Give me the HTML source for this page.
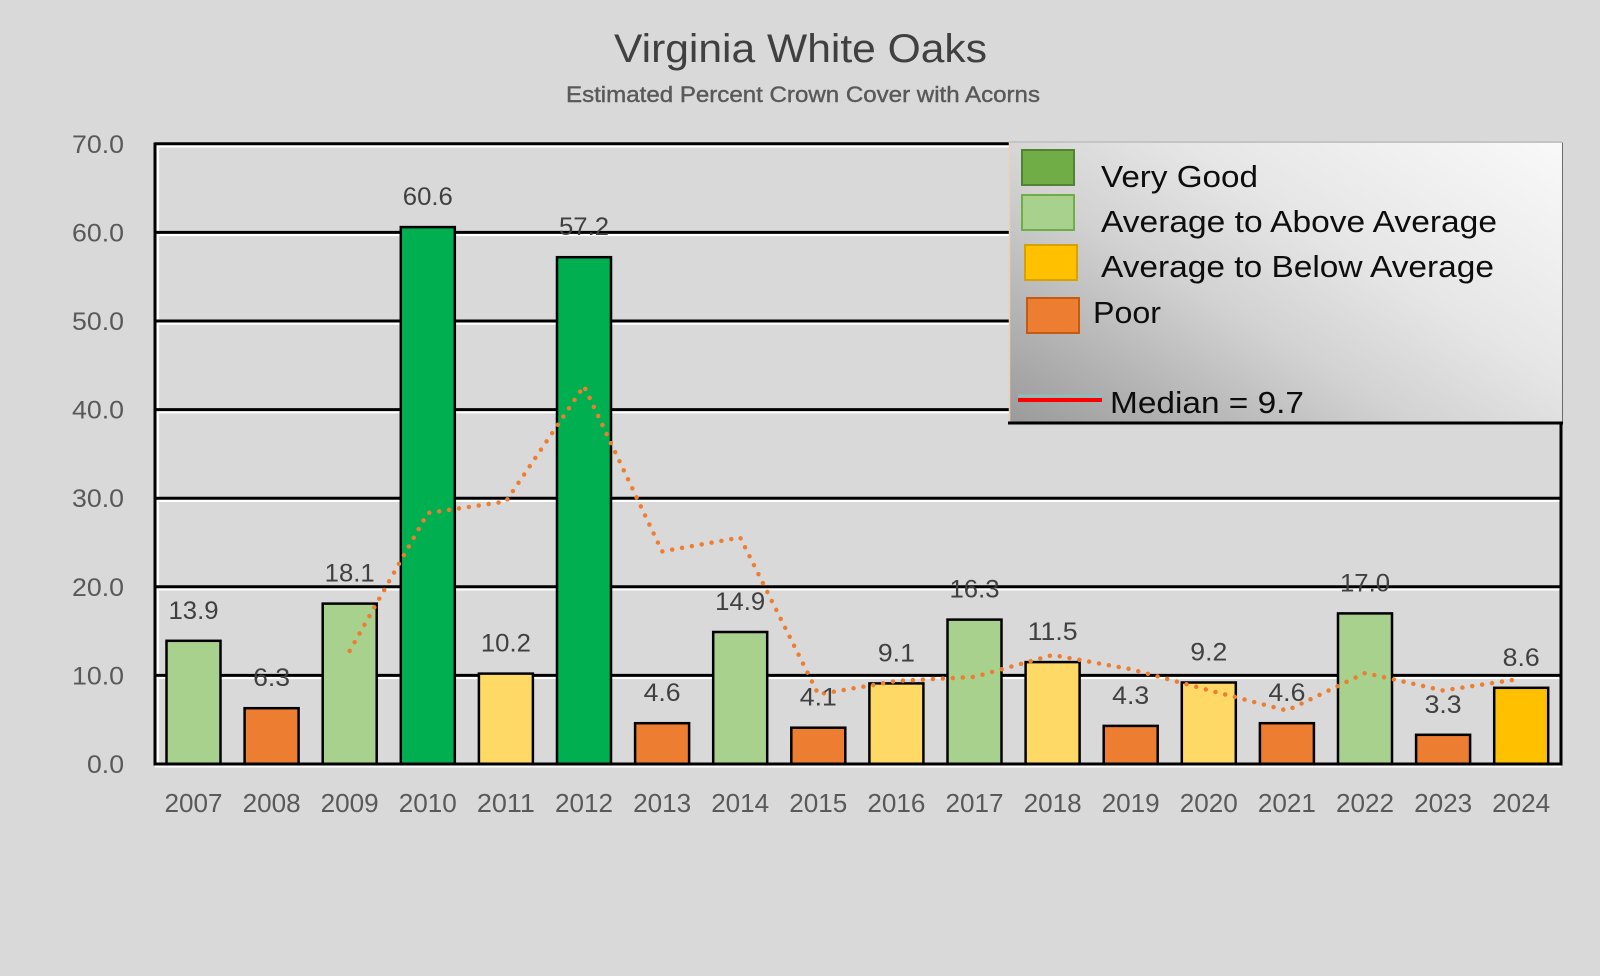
<!DOCTYPE html>
<html>
<head>
<meta charset="utf-8">
<style>
  html,body{margin:0;padding:0;background:#d9d9d9;}
  svg{display:block;}
  text{font-family:"Liberation Sans", sans-serif;}
</style>
</head>
<body>
<svg width="1600" height="976" viewBox="0 0 1600 976" xmlns="http://www.w3.org/2000/svg">
  <defs>
    <linearGradient id="lg" x1="0" y1="1" x2="1.09" y2="0.11">
      <stop offset="0" stop-color="#9a9a9a"/>
      <stop offset="0.4" stop-color="#d2d2d2"/>
      <stop offset="0.62" stop-color="#e6e6e6"/>
      <stop offset="1" stop-color="#f9f9f9"/>
    </linearGradient>
  </defs>
  <rect x="0" y="0" width="1600" height="976" fill="#d9d9d9"/>

  <!-- Title -->
  <text x="800.5" y="62" font-size="40" fill="#404040" text-anchor="middle" textLength="373" lengthAdjust="spacingAndGlyphs">Virginia White Oaks</text>
  <text x="803" y="102" font-size="22" fill="#595959" stroke="#595959" stroke-width="0.4" text-anchor="middle" textLength="474" lengthAdjust="spacingAndGlyphs">Estimated Percent Crown Cover with Acorns</text>

  <!-- Gridlines (white halo + black) -->
  <g stroke="#ffffff" stroke-width="2.5">
    <line x1="155" y1="146.3" x2="1561" y2="146.3"/>
    <line x1="155" y1="234.9" x2="1561" y2="234.9"/>
    <line x1="155" y1="323.5" x2="1561" y2="323.5"/>
    <line x1="155" y1="412.1" x2="1561" y2="412.1"/>
    <line x1="155" y1="500.7" x2="1561" y2="500.7"/>
    <line x1="155" y1="589.3" x2="1561" y2="589.3"/>
    <line x1="155" y1="677.9" x2="1561" y2="677.9"/>
    <line x1="157.8" y1="143" x2="157.8" y2="764"/>
  </g>
  <g stroke="#000000" stroke-width="3">
    <line x1="155" y1="143.8" x2="1561" y2="143.8"/>
    <line x1="155" y1="232.4" x2="1561" y2="232.4"/>
    <line x1="155" y1="321.0" x2="1561" y2="321.0"/>
    <line x1="155" y1="409.6" x2="1561" y2="409.6"/>
    <line x1="155" y1="498.2" x2="1561" y2="498.2"/>
    <line x1="155" y1="586.8" x2="1561" y2="586.8"/>
    <line x1="155" y1="675.4" x2="1561" y2="675.4"/>
    <line x1="155" y1="142.5" x2="155" y2="765.5"/>
    <line x1="1561" y1="142.5" x2="1561" y2="765.5"/>
  </g>

  <!-- Y axis labels -->
  <g font-size="25" fill="#595959" text-anchor="end">
    <text x="124" y="152.8" textLength="52" lengthAdjust="spacingAndGlyphs">70.0</text>
    <text x="124" y="241.4" textLength="52" lengthAdjust="spacingAndGlyphs">60.0</text>
    <text x="124" y="330.0" textLength="52" lengthAdjust="spacingAndGlyphs">50.0</text>
    <text x="124" y="418.6" textLength="52" lengthAdjust="spacingAndGlyphs">40.0</text>
    <text x="124" y="507.2" textLength="52" lengthAdjust="spacingAndGlyphs">30.0</text>
    <text x="124" y="595.8" textLength="52" lengthAdjust="spacingAndGlyphs">20.0</text>
    <text x="124" y="684.4" textLength="52" lengthAdjust="spacingAndGlyphs">10.0</text>
    <text x="124" y="773" textLength="37" lengthAdjust="spacingAndGlyphs">0.0</text>
  </g>

  <!-- Bars -->
  <g stroke="#000000" stroke-width="2.5">
    <rect x="166.5" y="640.8" width="54" height="123.2" fill="#a9d18e"/>
    <rect x="244.6" y="708.2" width="54" height="55.8" fill="#ed7d31"/>
    <rect x="322.7" y="603.6" width="54" height="160.4" fill="#a9d18e"/>
    <rect x="400.8" y="227.1" width="54" height="536.9" fill="#00b050"/>
    <rect x="478.9" y="673.6" width="54" height="90.4" fill="#ffd966"/>
    <rect x="557.0" y="257.2" width="54" height="506.8" fill="#00b050"/>
    <rect x="635.1" y="723.2" width="54" height="40.8" fill="#ed7d31"/>
    <rect x="713.2" y="632.0" width="54" height="132.0" fill="#a9d18e"/>
    <rect x="791.3" y="727.7" width="54" height="36.3" fill="#ed7d31"/>
    <rect x="869.4" y="683.4" width="54" height="80.6" fill="#ffd966"/>
    <rect x="947.5" y="619.6" width="54" height="144.4" fill="#a9d18e"/>
    <rect x="1025.6" y="662.1" width="54" height="101.9" fill="#ffd966"/>
    <rect x="1103.7" y="725.9" width="54" height="38.1" fill="#ed7d31"/>
    <rect x="1181.8" y="682.5" width="54" height="81.5" fill="#ffd966"/>
    <rect x="1259.9" y="723.2" width="54" height="40.8" fill="#ed7d31"/>
    <rect x="1338.0" y="613.4" width="54" height="150.6" fill="#a9d18e"/>
    <rect x="1416.1" y="734.8" width="54" height="29.2" fill="#ed7d31"/>
    <rect x="1494.2" y="687.8" width="54" height="76.2" fill="#ffc000"/>
  </g>

  <!-- Bottom axis -->
  <line x1="155" y1="766.5" x2="1561" y2="766.5" stroke="#ffffff" stroke-width="2"/>
  <line x1="153.5" y1="764" x2="1562.5" y2="764" stroke="#000000" stroke-width="3"/>

  <!-- Moving average dotted line -->
  <polyline fill="none" stroke="#ed7d31" stroke-width="4.5" stroke-linecap="round" stroke-dasharray="0 10"
    points="349.7,650.9 427.8,513.0 505.9,501.5 584.0,386.0 662.1,551.4 740.2,537.5 818.3,694.3 896.4,681.0 974.5,676.9 1052.6,655.0 1130.7,669.2 1208.8,690.2 1286.9,710.6 1365.0,673.0 1443.1,690.5 1521.2,678.7"/>

  <!-- Data labels -->
  <g font-size="25" fill="#404040" text-anchor="middle">
    <text x="193.5" y="618.8" textLength="50" lengthAdjust="spacingAndGlyphs">13.9</text>
    <text x="271.6" y="686.2" textLength="37" lengthAdjust="spacingAndGlyphs">6.3</text>
    <text x="349.7" y="581.6" textLength="50" lengthAdjust="spacingAndGlyphs">18.1</text>
    <text x="427.8" y="205.1" textLength="50" lengthAdjust="spacingAndGlyphs">60.6</text>
    <text x="505.9" y="651.6" textLength="50" lengthAdjust="spacingAndGlyphs">10.2</text>
    <text x="584.0" y="235.2" textLength="50" lengthAdjust="spacingAndGlyphs">57.2</text>
    <text x="662.1" y="701.2" textLength="37" lengthAdjust="spacingAndGlyphs">4.6</text>
    <text x="740.2" y="610.0" textLength="50" lengthAdjust="spacingAndGlyphs">14.9</text>
    <text x="818.3" y="705.7" textLength="37" lengthAdjust="spacingAndGlyphs">4.1</text>
    <text x="896.4" y="661.4" textLength="37" lengthAdjust="spacingAndGlyphs">9.1</text>
    <text x="974.5" y="597.6" textLength="50" lengthAdjust="spacingAndGlyphs">16.3</text>
    <text x="1052.6" y="640.1" textLength="50" lengthAdjust="spacingAndGlyphs">11.5</text>
    <text x="1130.7" y="703.9" textLength="37" lengthAdjust="spacingAndGlyphs">4.3</text>
    <text x="1208.8" y="660.5" textLength="37" lengthAdjust="spacingAndGlyphs">9.2</text>
    <text x="1286.9" y="701.2" textLength="37" lengthAdjust="spacingAndGlyphs">4.6</text>
    <text x="1365.0" y="591.4" textLength="50" lengthAdjust="spacingAndGlyphs">17.0</text>
    <text x="1443.1" y="712.8" textLength="37" lengthAdjust="spacingAndGlyphs">3.3</text>
    <text x="1521.2" y="665.8" textLength="37" lengthAdjust="spacingAndGlyphs">8.6</text>
  </g>

  <!-- Year labels -->
  <g font-size="26" fill="#595959" text-anchor="middle">
    <text x="193.5" y="812" textLength="58" lengthAdjust="spacingAndGlyphs">2007</text>
    <text x="271.6" y="812" textLength="58" lengthAdjust="spacingAndGlyphs">2008</text>
    <text x="349.7" y="812" textLength="58" lengthAdjust="spacingAndGlyphs">2009</text>
    <text x="427.8" y="812" textLength="58" lengthAdjust="spacingAndGlyphs">2010</text>
    <text x="505.9" y="812" textLength="58" lengthAdjust="spacingAndGlyphs">2011</text>
    <text x="584.0" y="812" textLength="58" lengthAdjust="spacingAndGlyphs">2012</text>
    <text x="662.1" y="812" textLength="58" lengthAdjust="spacingAndGlyphs">2013</text>
    <text x="740.2" y="812" textLength="58" lengthAdjust="spacingAndGlyphs">2014</text>
    <text x="818.3" y="812" textLength="58" lengthAdjust="spacingAndGlyphs">2015</text>
    <text x="896.4" y="812" textLength="58" lengthAdjust="spacingAndGlyphs">2016</text>
    <text x="974.5" y="812" textLength="58" lengthAdjust="spacingAndGlyphs">2017</text>
    <text x="1052.6" y="812" textLength="58" lengthAdjust="spacingAndGlyphs">2018</text>
    <text x="1130.7" y="812" textLength="58" lengthAdjust="spacingAndGlyphs">2019</text>
    <text x="1208.8" y="812" textLength="58" lengthAdjust="spacingAndGlyphs">2020</text>
    <text x="1286.9" y="812" textLength="58" lengthAdjust="spacingAndGlyphs">2021</text>
    <text x="1365.0" y="812" textLength="58" lengthAdjust="spacingAndGlyphs">2022</text>
    <text x="1443.1" y="812" textLength="58" lengthAdjust="spacingAndGlyphs">2023</text>
    <text x="1521.2" y="812" textLength="58" lengthAdjust="spacingAndGlyphs">2024</text>
  </g>

  <!-- Legend -->
  <rect x="1009" y="141" width="553" height="282" fill="url(#lg)"/>
  <line x1="1009" y1="142" x2="1562" y2="142" stroke="#c4c4c4" stroke-width="2"/>
  <line x1="1009.5" y1="142" x2="1009.5" y2="423" stroke="#f0cdb5" stroke-width="1.5"/>
  <line x1="1008" y1="423" x2="1563" y2="423" stroke="#000000" stroke-width="3"/>

  <rect x="1022" y="150" width="52" height="35" fill="#70ad47" stroke="#548235" stroke-width="2"/>
  <rect x="1022" y="195" width="52" height="35" fill="#a9d18e" stroke="#70ad47" stroke-width="2"/>
  <rect x="1025" y="245" width="52" height="35" fill="#ffc000" stroke="#d9a100" stroke-width="2"/>
  <rect x="1027" y="298" width="52" height="35" fill="#ed7d31" stroke="#c55a11" stroke-width="2"/>

  <g font-size="31" fill="#0d0d0d">
    <text x="1101" y="187" textLength="157" lengthAdjust="spacingAndGlyphs">Very Good</text>
    <text x="1101" y="232" textLength="396" lengthAdjust="spacingAndGlyphs">Average to Above Average</text>
    <text x="1101" y="277" textLength="393" lengthAdjust="spacingAndGlyphs">Average to Below Average</text>
    <text x="1093" y="323" textLength="68" lengthAdjust="spacingAndGlyphs">Poor</text>
    <text x="1110" y="413" textLength="194" lengthAdjust="spacingAndGlyphs">Median = 9.7</text>
  </g>
  <line x1="1018" y1="396" x2="1102" y2="396" stroke="#8fbcbc" stroke-width="3"/>
  <line x1="1018" y1="400" x2="1102" y2="400" stroke="#ff0000" stroke-width="4"/>
</svg>
</body>
</html>
